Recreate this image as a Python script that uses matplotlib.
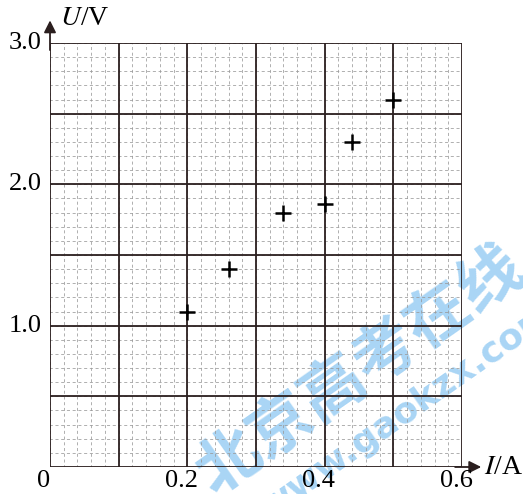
import matplotlib
matplotlib.use("Agg")
import matplotlib.pyplot as plt
import numpy as np

plt.rcParams["mathtext.fontset"] = "stix"

# data
current = [0.20, 0.26, 0.34, 0.40, 0.44, 0.50]
voltage = [1.10, 1.40, 1.80, 1.86, 2.30, 2.60]

x_ticks = [0, 0.2, 0.4, 0.6]
x_labels = ["0", "0.2", "0.4", "0.6"]
y_ticks = [1.0, 2.0, 3.0]
y_labels = ["1.0", "2.0", "3.0"]

LINE = "#2b1f1f"
MINOR = "#9a9a9a"
WM = "#a9d5f5"
SERIF = ["Liberation Serif", "DejaVu Serif"]

fig = plt.figure(figsize=(5.23, 4.94), dpi=100)
ax = fig.add_axes([50 / 523, 27 / 494, 412 / 523, 424 / 494])
ax.set_xlim(0, 0.6)
ax.set_ylim(0, 3.0)
ax.axis("off")

# minor dashed grid
for xv in np.arange(0, 0.6001, 0.02):
    ax.plot([xv, xv], [0, 3.0], color=MINOR, lw=0.55, ls=(1, (4, 3.5)), zorder=1)
for yv in np.arange(0, 3.0001, 0.1):
    ax.plot([0, 0.6], [yv, yv], color=MINOR, lw=0.55, ls=(1, (4, 3.5)), zorder=1)

# major grid
for xv in np.arange(0, 0.6001, 0.1):
    ax.plot([xv, xv], [0, 3.0], color=LINE, lw=1.3, zorder=3)
for yv in np.arange(0, 3.0001, 0.5):
    ax.plot([0, 0.6], [yv, yv], color=LINE, lw=1.3, zorder=3)

# axis arrows
ax.annotate("", xy=(0.628, 0), xytext=(0.59, 0), annotation_clip=False,
            arrowprops=dict(arrowstyle="-|>", color=LINE, lw=1.3, mutation_scale=18,
                            shrinkA=0, shrinkB=0))
ax.annotate("", xy=(0, 3.16), xytext=(0, 2.95), annotation_clip=False,
            arrowprops=dict(arrowstyle="-|>", color=LINE, lw=1.3, mutation_scale=18,
                            shrinkA=0, shrinkB=0))

# data points
ax.plot(current, voltage, ls="none", marker="+", ms=11, mew=1.8, color="black", zorder=5)

# tick labels
for xv, lab in zip(x_ticks, x_labels):
    ax.annotate(lab, xy=(xv, 0), xytext=(-6, -3), textcoords="offset pixels",
                ha="center", va="top", fontsize=19, family=SERIF, annotation_clip=False)
for yv, lab in zip(y_ticks, y_labels):
    ax.annotate(lab, xy=(0, yv), xytext=(-8, 0), textcoords="offset pixels",
                ha="right", va="center", fontsize=19, family=SERIF, annotation_clip=False)

ax.annotate("$\\mathit{U}$/V", xy=(0, 3.0), xytext=(10, 12), textcoords="offset pixels",
            ha="left", va="bottom", fontsize=20, family=SERIF, annotation_clip=False)
ax.annotate("$\\mathit{I}$/A", xy=(0.6, 0), xytext=(22, 0), textcoords="offset pixels",
            ha="left", va="center", fontsize=20, family=SERIF, annotation_clip=False)

# watermark, behind the grid
fig.text(0.69, 0.25, "北京高考在线", rotation=35, ha="center", va="center",
         fontsize=46, fontweight="bold", color=WM, zorder=-1,
         family=["Noto Sans CJK SC", "DejaVu Sans"])
fig.text(0.78, 0.17, "www.gaokzx.com", rotation=35, ha="center", va="center",
         fontsize=26, fontweight="bold", color=WM, zorder=-1,
         family=["DejaVu Sans"])

fig.savefig("out.png", dpi=100, facecolor="white")
